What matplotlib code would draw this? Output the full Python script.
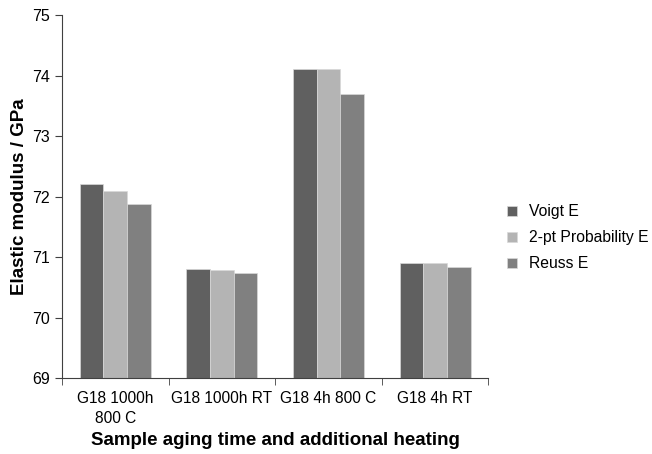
import numpy as np
import matplotlib
matplotlib.use("Agg")
import matplotlib.pyplot as plt

plt.rcParams['font.family'] = ['Liberation Sans', 'DejaVu Sans']

# values
samples = ['G18 1000h\n800 C', 'G18 1000h RT', 'G18 4h 800 C', 'G18 4h RT']
voigt = [72.2, 70.8, 74.1, 70.9]
prob2pt = [72.1, 70.78, 74.1, 70.9]
reuss = [71.87, 70.74, 73.7, 70.83]
series_names = ['Voigt E', '2-pt Probability E', 'Reuss E']
colours = ['#606060', '#b4b4b4', '#808080']

fig = plt.figure(figsize=(6.52, 4.54), dpi=100)
ax = fig.add_axes([0.095, 0.167, 0.654, 0.8])

x = np.arange(len(samples))
w = 0.222
for i, (vals, name, c) in enumerate(zip([voigt, prob2pt, reuss], series_names, colours)):
    ax.bar(x + (i - 1) * w, np.array(vals) - 69, width=w, bottom=69,
           color=c, edgecolor='#d8d8d8', linewidth=0.5, label=name)

ax.set_xlim(-0.5, len(samples) - 0.5)
ax.set_ylim(69, 75)
ax.set_yticks(range(69, 76))
ax.set_xticks(x)
ax.set_xticklabels(samples, fontsize=11.2, linespacing=1.45)
ax.tick_params(axis='x', length=0, pad=9)
# ticks between the categories
ax.set_xticks(np.arange(-0.5, len(samples)), minor=True)
ax.tick_params(axis='x', which='minor', length=5, direction='out', color='#404040')
ax.tick_params(axis='y', labelsize=11.5, length=5, color='#404040')

for s in ['top', 'right']:
    ax.spines[s].set_visible(False)
for s in ['left', 'bottom']:
    ax.spines[s].set_color('#404040')

ax.set_ylabel('Elastic modulus / GPa', fontsize=13.5, fontweight='bold', labelpad=3)
ax.set_xlabel('Sample aging time and additional heating', fontsize=13.5, fontweight='bold', labelpad=4)

ax.legend(loc='center left', bbox_to_anchor=(1.03, 0.387), frameon=False,
          fontsize=11.3, handlelength=0.6, handleheight=0.6, handletextpad=0.8,
          labelspacing=0.7, borderaxespad=0)

fig.savefig('out.png', dpi=100)
